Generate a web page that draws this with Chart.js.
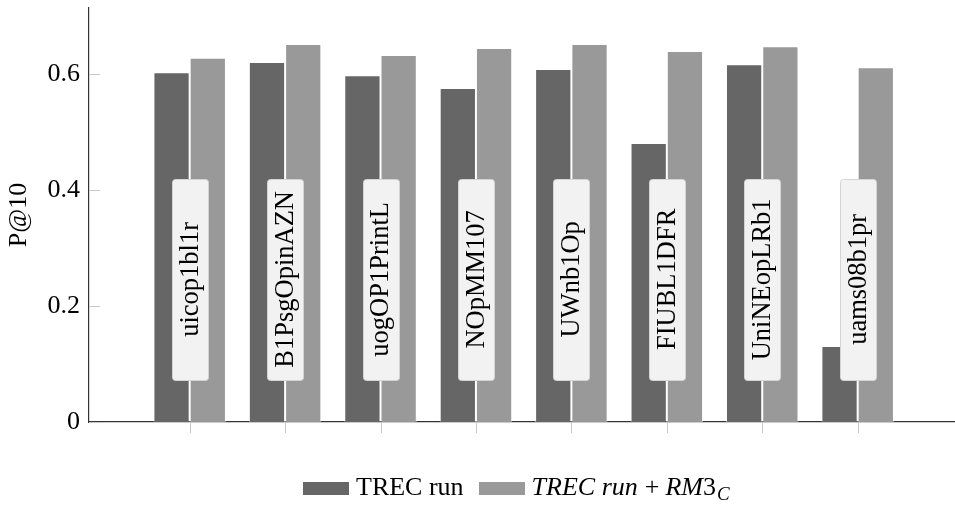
<!DOCTYPE html>
<html>
<head>
<meta charset="utf-8">
<script src="https://cdn.jsdelivr.net/npm/chart.js@4/dist/chart.umd.min.js"></script>
<style>
  html, body { margin: 0; padding: 0; background: #fff; }
  #wrap { position: relative; width: 955px; height: 518px; }
  #legend { position: absolute; left: 303px; top: 472px; font-family: 'Liberation Serif', 'Times New Roman', serif; font-size: 26px; line-height: normal; white-space: nowrap; color: #000; }
  .sw { display: inline-block; width: 46px; height: 13px; margin-right: 7px; }
  .it { font-style: italic; }
  sub { font-size: 19px; vertical-align: -5px; line-height: 0; margin-left: 1px; }
</style>
</head>
<body>
<div id="wrap">
  <canvas id="c" width="955" height="518"></canvas>
  <div id="legend"><span class="sw" style="background:#666666"></span>TREC run<span style="display:inline-block;width:15px"></span><span class="sw" style="background:#999999"></span><span class="it">TREC run</span><span style="margin:0 6px 0 7px">+</span><span class="it">RM</span>3<sub class="it">C</sub></div>
</div>
<script>
const categories = ['uicop1bl1r', 'B1PsgOpinAZN', 'uogOP1PrintL', 'NOpMM107', 'UWnb1Op', 'FIUBL1DFR', 'UniNEopLRb1', 'uams08b1pr'];
const trecRun = [0.603, 0.621, 0.598, 0.576, 0.609, 0.481, 0.617, 0.131];
const trecRunRM3 = [0.628, 0.652, 0.633, 0.645, 0.652, 0.640, 0.648, 0.612];
const seriesNames = ['TREC run', 'TREC run + RM3_C'];
const yTicks = [0, 0.2, 0.4, 0.6];
const yTickLabels = ['0', '0.2', '0.4', '0.6'];
const labelNodeY = 0.246;

const serif = "'Liberation Serif', 'Times New Roman', serif";

const decorPlugin = {
  id: 'decor',
  afterDatasetsDraw(chart) {
    const ctx = chart.ctx;
    const xs = chart.scales.x, ys = chart.scales.y;
    const area = chart.chartArea;
    ctx.save();
    ctx.strokeStyle = '#c8c8c8';
    ctx.lineWidth = 1;
    yTicks.forEach(v => {
      const py = Math.round(ys.getPixelForValue(v)) + 0.5;
      ctx.beginPath(); ctx.moveTo(area.left, py); ctx.lineTo(area.left + 11, py); ctx.stroke();
    });
    categories.forEach((c, i) => {
      const px = Math.round(xs.getPixelForValue(i)) + 0.5;
      ctx.beginPath(); ctx.moveTo(px, area.bottom); ctx.lineTo(px, area.bottom + 11); ctx.stroke();
    });
    const w = 36, h = 201;
    categories.forEach((c, i) => {
      const cx = xs.getPixelForValue(i);
      const cy = ys.getPixelForValue(labelNodeY);
      const x0 = Math.round(cx - w / 2) + 0.5, y0 = Math.round(cy - h / 2) + 0.5;
      ctx.beginPath();
      ctx.roundRect(x0, y0, w, h, 3);
      ctx.fillStyle = '#f2f2f2';
      ctx.fill();
      ctx.strokeStyle = '#d4d4d4';
      ctx.stroke();
      ctx.save();
      ctx.translate(cx + 1, cy);
      ctx.rotate(-Math.PI / 2);
      ctx.fillStyle = '#000';
      ctx.font = '26.5px ' + serif;
      ctx.textAlign = 'center';
      ctx.textBaseline = 'middle';
      ctx.fillText(c, 0, 0);
      ctx.restore();
    });
    ctx.restore();
  }
};

new Chart(document.getElementById('c'), {
  type: 'bar',
  data: {
    datasets: [
      { label: seriesNames[0], data: trecRun.map((v, i) => ({ x: i, y: v })), backgroundColor: '#666666', borderColor: 'rgba(255,255,255,0.55)', borderWidth: 1 },
      { label: seriesNames[1], data: trecRunRM3.map((v, i) => ({ x: i, y: v })), backgroundColor: '#999999', borderColor: 'rgba(255,255,255,0.55)', borderWidth: 1 }
    ]
  },
  options: {
    responsive: false,
    animation: false,
    devicePixelRatio: 1,
    categoryPercentage: 0.76,
    barPercentage: 1.0,
    layout: { padding: { top: 8, right: 0, left: 0, bottom: 0 } },
    plugins: { legend: { display: false }, tooltip: { enabled: false } },
    scales: {
      x: {
        type: 'linear',
        offset: false,
        min: -1.055,
        max: 8.02,
        grid: { display: false },
        border: { display: true, color: '#333333', width: 1.2 },
        ticks: { display: false },
        afterFit(scale) { scale.height = 96; scale.paddingLeft = 0; scale.paddingRight = 0; }
      },
      y: {
        min: 0,
        max: 0.714,
        grid: { display: false, drawTicks: false },
        border: { display: true, color: '#333333', width: 1.2 },
        afterBuildTicks(scale) { scale.ticks = yTicks.map(v => ({ value: v })); },
        ticks: {
          padding: 9,
          color: '#000',
          font: { family: serif, size: 26 },
          callback: (v) => { const k = yTicks.indexOf(v); return k >= 0 ? yTickLabels[k] : ''; }
        },
        title: { display: true, text: 'P@10', color: '#000', font: { family: serif, size: 26 }, padding: { top: 4, bottom: 4 } },
        afterFit(scale) { scale.width = 89; scale.paddingTop = 0; scale.paddingBottom = 0; }
      }
    }
  },
  plugins: [decorPlugin]
});
</script>
</body>
</html>
